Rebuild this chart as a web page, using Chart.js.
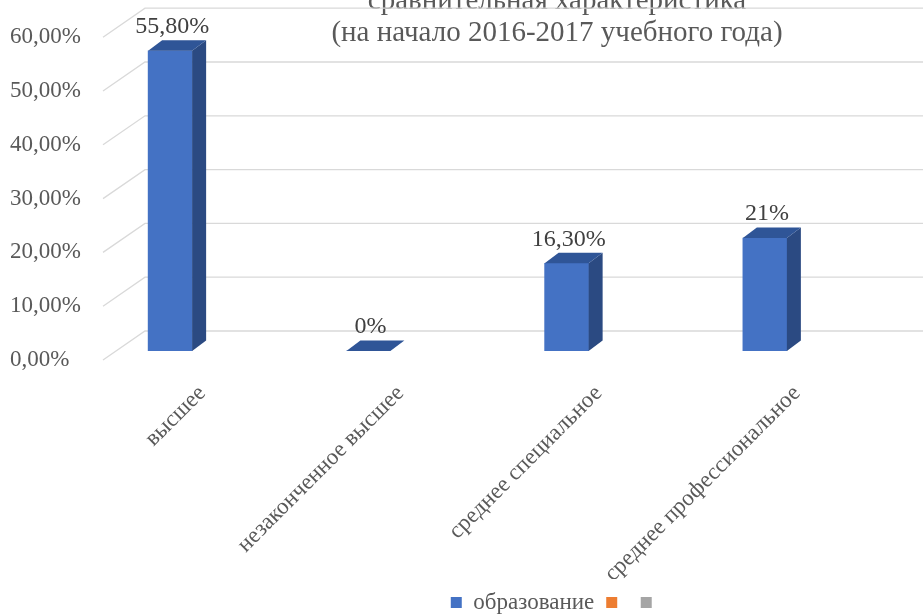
<!DOCTYPE html>
<html><head><meta charset="utf-8">
<script src="https://cdn.jsdelivr.net/npm/chart.js@4"></script>
<style>
html,body{margin:0;padding:0;background:#fff;overflow:hidden;width:923px;height:616px;position:relative;}
#wrap{position:absolute;left:0;top:-20px;width:1114px;height:650px;}
</style></head><body>
<div id="wrap"><canvas id="c"></canvas></div>
<script>
const categories = ['высшее', 'незаконченное высшее', 'среднее специальное', 'среднее профессиональное'];
const educationValues = [55.8, 0, 16.3, 21];
const valueLabels = ['55,80%', '0%', '16,30%', '21%'];
const seriesNames = ['образование', '', ''];
const seriesColors = ['#4472c4', '#ed7d31', '#a5a5a5'];
const yTicks = [0, 10, 20, 30, 40, 50, 60];
const titleLines = ['сравнительная характеристика', '(на начало 2016-2017 учебного года)'];

const FONT = "'Liberation Serif','Times New Roman',serif";
const DX = 14, DY = 10.5;

const bars3d = {
  id: 'bars3d',
  beforeDatasetsDraw(chart) {
    const ctx = chart.ctx, ys = chart.scales.y;
    ctx.save();
    ctx.strokeStyle = '#d9d9d9';
    ctx.lineWidth = 1.3;
    yTicks.forEach(v => {
      const p = ys.getPixelForValue(v);
      ctx.beginPath();
      ctx.moveTo(103, p + 9);
      ctx.lineTo(145, p - 20);
      ctx.lineTo(chart.width, p - 20);
      ctx.stroke();
    });
    ctx.restore();
  },
  afterDatasetsDraw(chart) {
    const ctx = chart.ctx;
    const meta = chart.getDatasetMeta(0);
    ctx.save();
    meta.data.forEach((bar, i) => {
      const {x, y, base, width} = bar.getProps(['x', 'y', 'base', 'width'], true);
      const l = x - width / 2, r = x + width / 2;
      ctx.fillStyle = '#2b4a82';
      ctx.beginPath();
      ctx.moveTo(r, y); ctx.lineTo(r + DX, y - DY); ctx.lineTo(r + DX, base - DY); ctx.lineTo(r, base);
      ctx.closePath(); ctx.fill();
      ctx.fillStyle = '#2f5597';
      ctx.beginPath();
      ctx.moveTo(l, y); ctx.lineTo(r, y); ctx.lineTo(r + DX, y - DY); ctx.lineTo(l + DX, y - DY);
      ctx.closePath(); ctx.fill();
      ctx.fillStyle = '#404040';
      ctx.font = '24px ' + FONT;
      ctx.textAlign = 'center';
      ctx.textBaseline = 'middle';
      ctx.fillText(valueLabels[i], x + 2, y - 24);
    });
    ctx.restore();
  }
};

new Chart(document.getElementById('c'), {
  type: 'bar',
  data: {
    labels: categories,
    datasets: [
      {label: seriesNames[0], data: educationValues, backgroundColor: seriesColors[0], borderWidth: 0, barThickness: 44, grouped: false},
      {label: seriesNames[1], data: [null, null, null, null], backgroundColor: seriesColors[1], borderWidth: 0, barThickness: 44, grouped: false},
      {label: seriesNames[2], data: [null, null, null, null], backgroundColor: seriesColors[2], borderWidth: 0, barThickness: 44, grouped: false}
    ]
  },
  options: {
    responsive: true,
    maintainAspectRatio: false,
    animation: false,
    layout: {padding: {left: 0, right: 0, top: 0, bottom: 6}},
    plugins: {
      tooltip: {enabled: false},
      title: {
        display: true,
        text: titleLines,
        color: '#595959',
        font: {family: FONT, size: 29, weight: 'normal', lineHeight: 1.1},
        padding: {top: 5.2, bottom: -20.8}
      },
      legend: {
        position: 'bottom',
        labels: {
          boxWidth: 11, boxHeight: 11, padding: 12,
          color: '#595959',
          font: {family: FONT, size: 23}
        }
      }
    },
    scales: {
      x: {
        type: 'category',
        offset: true,
        grid: {display: false, drawTicks: false},
        border: {display: false},
        ticks: {
          autoSkip: false, maxRotation: 45, minRotation: 45,
          labelOffset: 32, padding: 29,
          color: '#595959',
          font: {family: FONT, size: 23}
        },
        afterFit: s => { s.height = 228; }
      },
      y: {
        min: 0, max: 60,
        grid: {display: false, drawTicks: false},
        border: {display: false},
        ticks: {
          stepSize: 10, mirror: true, padding: -61, labelOffset: 9,
          color: '#595959',
          font: {family: FONT, size: 23},
          callback: v => v.toFixed(2).replace('.', ',') + '%'
        },
        afterFit: s => { s.width = 71; }
      },
      spacer: {
        position: 'right',
        min: 0, max: 1,
        grid: {display: false, drawTicks: false},
        border: {display: false},
        ticks: {display: false},
        afterFit: s => { s.width = 250; }
      }
    }
  },
  plugins: [bars3d]
});
</script>
</body></html>
